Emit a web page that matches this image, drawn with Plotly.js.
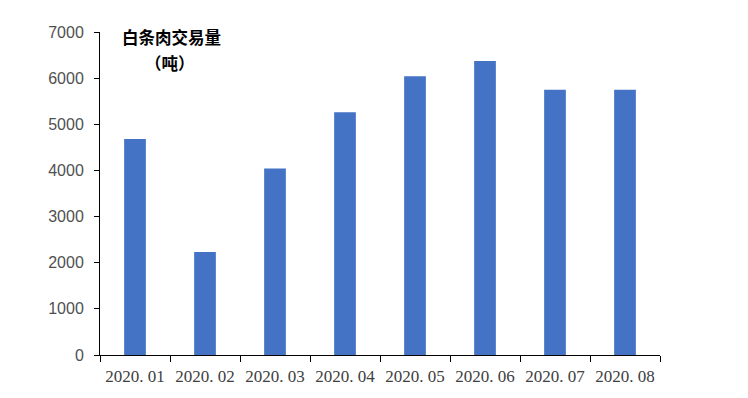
<!DOCTYPE html>
<html>
<head>
<meta charset="utf-8">
<script src="https://cdn.plot.ly/plotly-3.0.1.min.js"></script>
<style>html,body{margin:0;padding:0;background:#fff;}#chart{width:748px;height:398px;}</style>
</head>
<body>
<div id="chart"></div>
<script>
const months = ["2020. 01","2020. 02","2020. 03","2020. 04","2020. 05","2020. 06","2020. 07","2020. 08"];
const volumes = [4680, 2230, 4040, 5260, 6040, 6370, 5750, 5750];
const yTicks = [0, 1000, 2000, 3000, 4000, 5000, 6000, 7000];
const titleLine1 = "白条肉交易量";
const titleLine2 = "（吨）";

const data = [{
  type: "bar",
  x: months,
  y: volumes,
  width: 0.31,
  marker: {color: "#4472C4"},
  hoverinfo: "x+y"
}];

const layout = {
  width: 748, height: 398,
  margin: {l: 100, r: 88, t: 32, b: 43},
  paper_bgcolor: "#fff", plot_bgcolor: "#fff",
  showlegend: false,
  xaxis: {
    type: "category",
    range: [-0.5, 7.5],
    tickson: "boundaries",
    tickangle: 0,
    ticks: "outside", ticklen: 6, tickcolor: "#000", tickwidth: 1,
    showline: true, linecolor: "#000", linewidth: 1,
    showgrid: false, zeroline: false,
    tickfont: {family: "Liberation Serif, serif", size: 17, color: "#404040"},
    ticklabelstandoff: 6,
    fixedrange: true
  },
  yaxis: {
    range: [0, 7000],
    tickvals: yTicks,
    ticktext: yTicks.map(String),
    ticks: "outside", ticklen: 5, tickcolor: "#000", tickwidth: 1,
    showline: true, linecolor: "#000", linewidth: 1,
    showgrid: false, zeroline: false,
    tickfont: {family: "Liberation Sans, Arial, sans-serif", size: 16, color: "#505050"},
    ticklabelstandoff: 7,
    fixedrange: true
  },
  annotations: [
    {text: "<b>" + titleLine1 + "</b>", xref: "paper", yref: "paper", x: 0.127, y: 0.985, xanchor: "center", yanchor: "middle",
     showarrow: false, font: {family: "Noto Sans CJK SC, sans-serif", size: 16.5, color: "#000"}},
    {text: "<b>" + titleLine2 + "</b>", xref: "paper", yref: "paper", x: 0.125, y: 0.905, xanchor: "center", yanchor: "middle",
     showarrow: false, font: {family: "Noto Sans CJK SC, sans-serif", size: 16.5, color: "#000"}}
  ]
};

Plotly.newPlot("chart", data, layout, {displayModeBar: false, staticPlot: true});
</script>
</body>
</html>
